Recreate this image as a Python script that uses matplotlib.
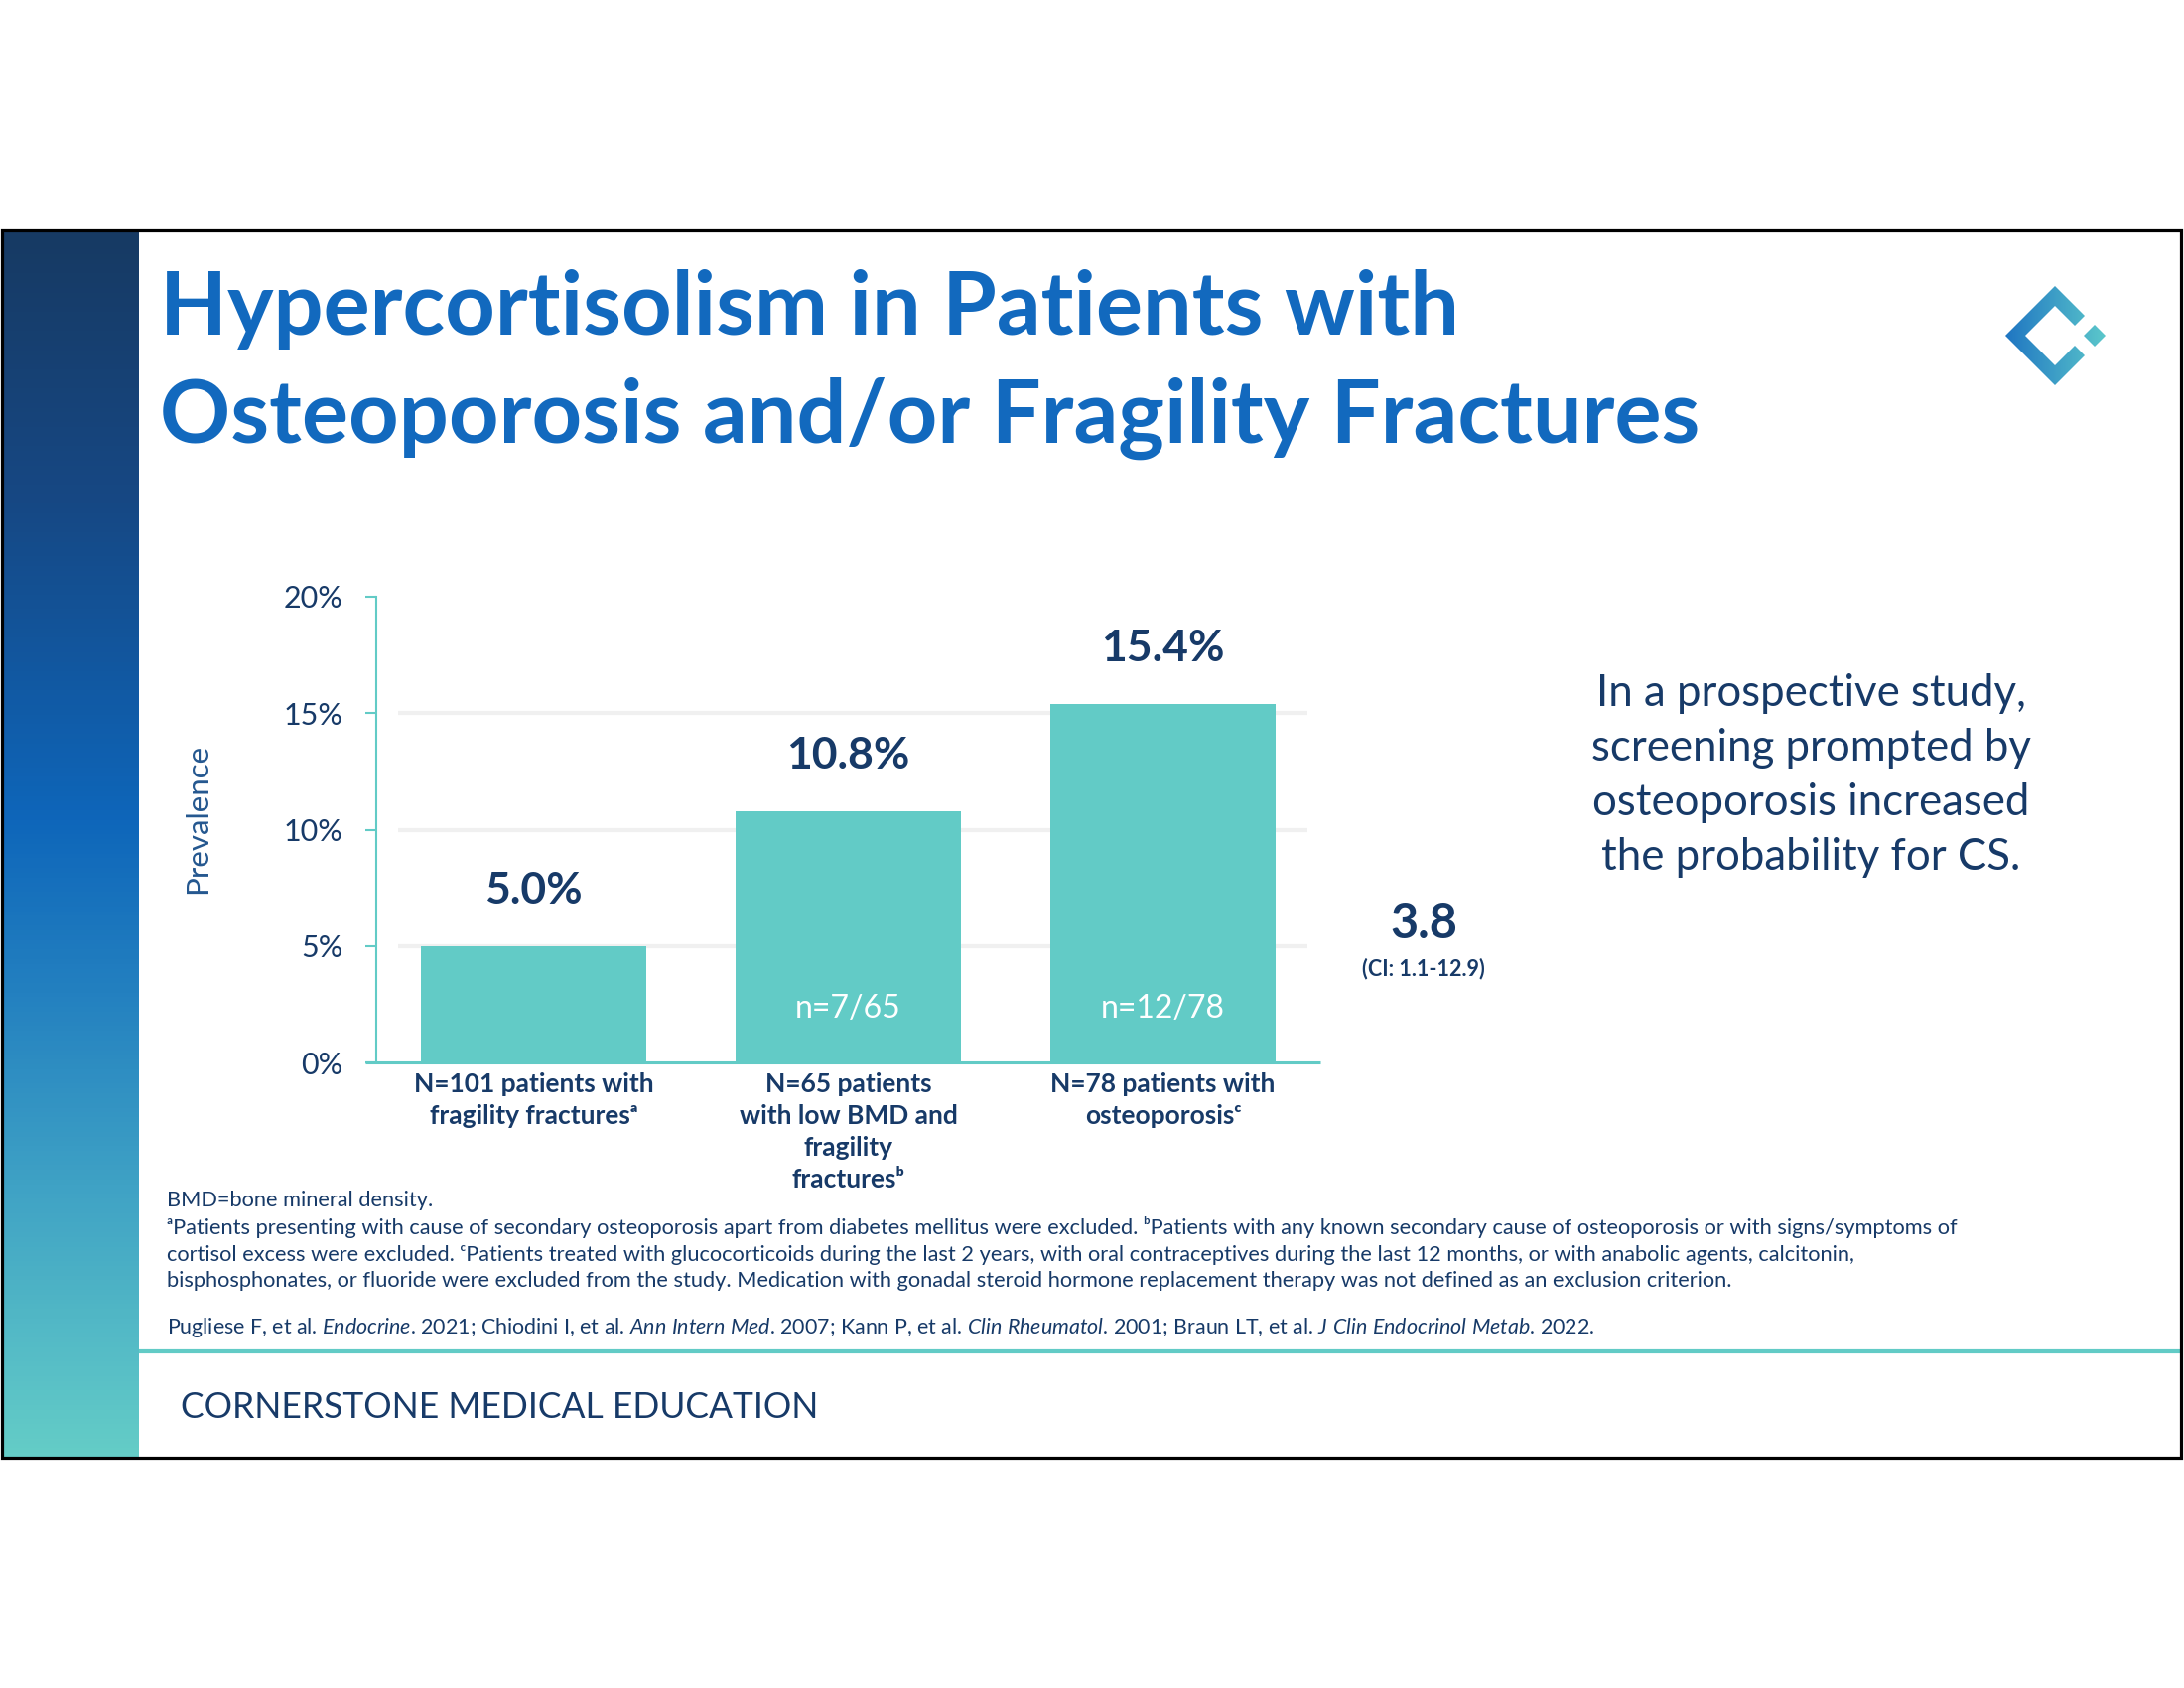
import numpy as np
import matplotlib
matplotlib.use("Agg")
import matplotlib.pyplot as plt
from matplotlib.colors import LinearSegmentedColormap
from matplotlib.patches import Rectangle, PathPatch
from matplotlib.path import Path

plt.rcParams['font.family'] = ['Lato', 'DejaVu Sans']
plt.rcParams['mathtext.fontset'] = 'custom'
plt.rcParams['mathtext.rm'] = 'Lato'
plt.rcParams['mathtext.it'] = 'Lato:italic'

# --- Data ---
categories = [
    "N=101 patients with\nfragility fractures\u1d43",
    "N=65 patients\nwith low BMD and\nfragility\nfractures\u1d47",
    "N=78 patients with\nosteoporosis\u1d9c",
]
prevalence = [5.0, 10.8, 15.4]
value_labels = ["5.0%", "10.8%", "15.4%"]
n_labels = ["", "n=7/65", "n=12/78"]
y_ticks = [0, 5, 10, 15, 20]
y_ticklabels = ["0%", "5%", "10%", "15%", "20%"]

title_lines = ["Hypercortisolism in Patients with",
               "Osteoporosis and/or Fragility Fractures"]
side_lines = ["In a prospective study,", "screening prompted by",
              "osteoporosis increased", "the probability for CS."]
odds_ratio = "3.8"
odds_ci = "(CI: 1.1-12.9)"
footnotes = [
    "BMD=bone mineral density.",
    "\u1d43Patients presenting with cause of secondary osteoporosis apart from diabetes mellitus were excluded. "
    "\u1d47Patients with any known secondary cause of osteoporosis or with signs/symptoms of",
    "cortisol excess were excluded. \u1d9cPatients treated with glucocorticoids during the last 2 years, "
    "with oral contraceptives during the last 12 months, or with anabolic agents, calcitonin,",
    "bisphosphonates, or fluoride were excluded from the study. Medication with gonadal steroid hormone "
    "replacement therapy was not defined as an exclusion criterion.",
]
references = (r"Pugliese F, et al. $\mathit{Endocrine}$. 2021; Chiodini I, et al. "
              r"$\mathit{Ann\ Intern\ Med}$. 2007; Kann P, et al. $\mathit{Clin\ Rheumatol}$. 2001; "
              r"Braun LT, et al. $\mathit{J\ Clin\ Endocrinol\ Metab}$. 2022.")
footer = "CORNERSTONE MEDICAL EDUCATION"

TEAL = "#62CBC6"
NAVY = "#173A68"
TITLE_BLUE = "#1269BE"

fig = plt.figure(figsize=(22, 17), dpi=100)

# background / decoration layer in pixel coordinates
bg = fig.add_axes([0, 0, 1, 1], zorder=0)
bg.set_xlim(0, 2200)
bg.set_ylim(1700, 0)
bg.axis("off")

# sidebar gradient
side_cmap = LinearSegmentedColormap.from_list("side", [
    (0.0, "#173A63"), (0.22, "#164884"), (0.48, "#0E66BA"),
    (0.62, "#2380C0"), (0.78, "#3FA2C5"), (1.0, "#64CDC7")])
grad = side_cmap(np.linspace(0, 1, 256))[:, None, :]
bg.imshow(grad, extent=[3, 140, 1468, 232], aspect="auto", zorder=1)

# frame and teal rule
bg.add_patch(Rectangle((1.5, 232), 2195.5, 1236, fill=False, ec="black", lw=2.3, zorder=3))
bg.plot([140, 2196], [1361, 1361], color=TEAL, lw=3, solid_capstyle="butt", zorder=2)

# logo
ring = [(2070, 288), (2020, 338), (2070, 388), (2100, 358), (2090, 348),
        (2070, 368), (2040, 338), (2070, 308), (2090, 328), (2100, 318), (2070, 288)]
dot = [(2110, 327), (2099, 338), (2110, 349), (2121, 338), (2110, 327)]
logo_path = Path.make_compound_path(Path(ring, closed=True), Path(dot, closed=True))
logo_patch = PathPatch(logo_path, fc="none", ec="none", transform=bg.transData)
bg.add_patch(logo_patch)
logo_cmap = LinearSegmentedColormap.from_list("logo", ["#1E74C2", "#5CC8CB"])
logo_img = bg.imshow(logo_cmap(np.linspace(0, 1, 128))[None, :, :],
                     extent=[2018, 2122, 390, 286], aspect="auto", zorder=2)
logo_img.set_clip_path(logo_patch)

# title
for line, yb in zip(title_lines, [337, 446]):
    bg.text(161, yb, line, fontsize=63.5, fontweight="bold", color=TITLE_BLUE,
            va="baseline", ha="left")

# side statement
for line, yb in zip(side_lines, [711, 766, 821, 876]):
    bg.text(1824, yb, line, fontsize=31.5, color=NAVY, va="baseline", ha="center")

bg.text(1434, 930, odds_ratio, fontsize=35, fontweight="bold", color=NAVY,
        ha="center", va="center")
bg.text(1434, 976, odds_ci, fontsize=15.5, fontweight="bold", color=NAVY,
        ha="center", va="center")

# footnotes
for line, yb in zip(footnotes, [1215, 1243, 1270, 1296]):
    bg.text(168, yb, line, fontsize=15.7, color=NAVY, va="baseline", ha="left")
bg.text(168, 1343, references, fontsize=15.4, color=NAVY, va="baseline", ha="left")

bg.text(182, 1417, footer, fontsize=25.6, color=NAVY, va="center", ha="left")

# --- Chart ---
ax = fig.add_axes([379 / 2200, 1 - 1070 / 1700, 951 / 2200, 469 / 1700], zorder=1)
ax.set_facecolor("none")
x = np.arange(len(categories))
ax.hlines([5, 10, 15], -0.43, 2.46, color="#F0F0F0", lw=3, zorder=0)
ax.bar(x, prevalence, width=0.716, color=TEAL, zorder=2)
ax.set_xlim(-0.5, 2.5)
ax.set_ylim(0, 20)

for xi, v, lab in zip(x, prevalence, value_labels):
    ax.annotate(lab, (xi, v), xytext=(0, 40), textcoords="offset points",
                ha="center", va="center", fontsize=32, fontweight="bold", color=NAVY)
for xi, lab in zip(x, n_labels):
    ax.text(xi, 2.3, lab, ha="center", va="center", fontsize=23, color="white", zorder=3)

for s in ["top", "right", "bottom"]:
    ax.spines[s].set_visible(False)
ax.spines["left"].set_color(TEAL)
ax.spines["left"].set_linewidth(1.5)
ax.plot([-0.535, 2.5], [0, 0], color=TEAL, lw=2.2, clip_on=False, zorder=3,
        solid_capstyle="butt")

ax.set_yticks(y_ticks)
ax.set_yticklabels(y_ticklabels, fontsize=22, color=NAVY)
ax.tick_params(axis="y", length=8, width=1.5, color=TEAL, pad=16)
ax.set_xticks(x)
ax.set_xticklabels(categories, fontsize=19, fontweight="bold", color=NAVY,
                   linespacing=1.4)
ax.tick_params(axis="x", length=0, pad=7)
ax.set_ylabel("Prevalence", fontsize=22.5, color="#24578F")
ax.yaxis.set_label_coords(-(379 - 213) / 951, 0.523)

fig.savefig("out.png", dpi=100, facecolor="white")
